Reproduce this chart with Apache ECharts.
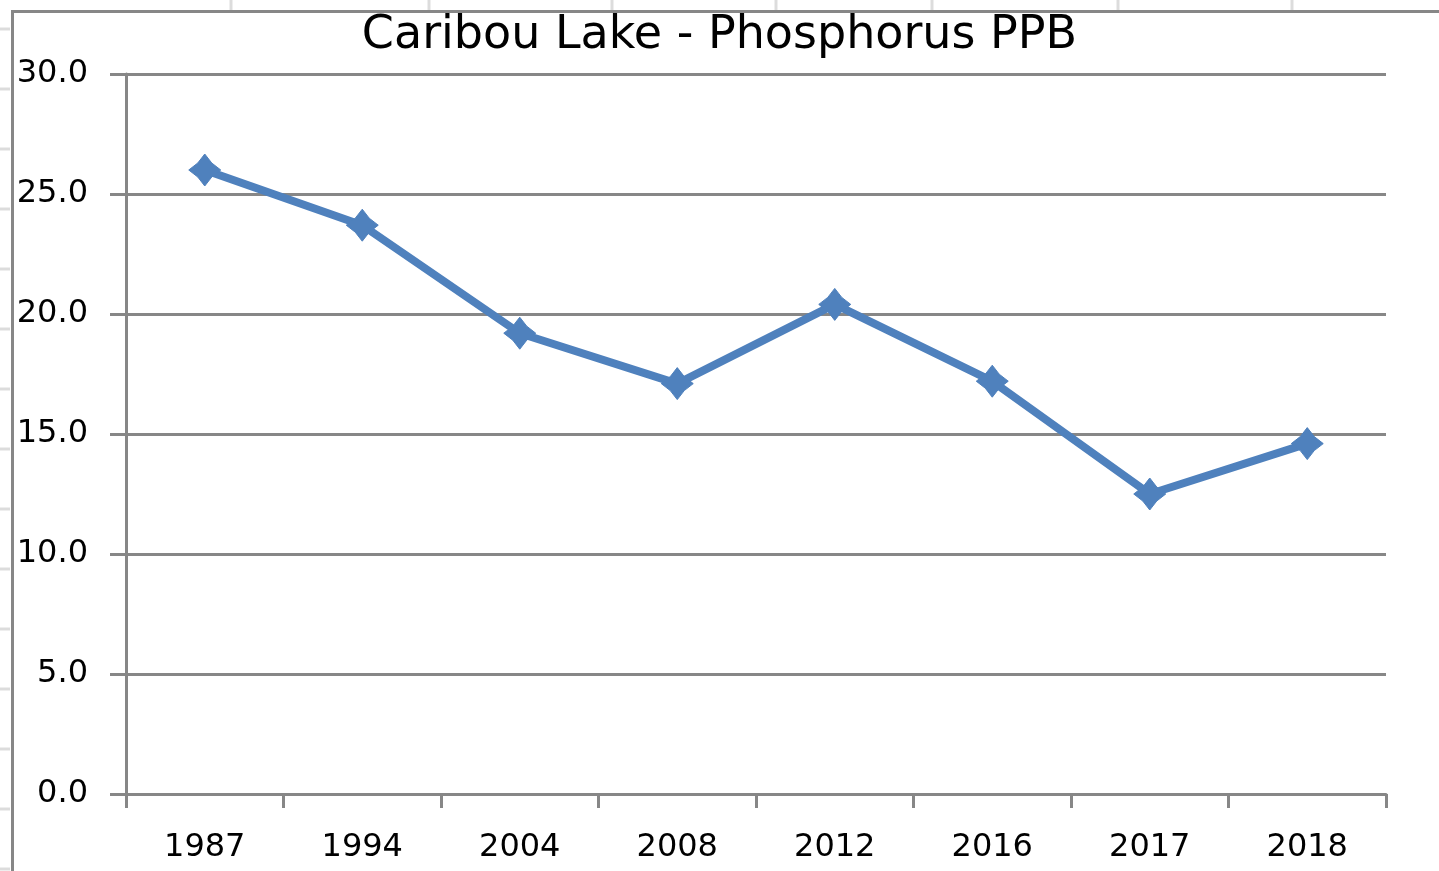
<!DOCTYPE html>
<html>
<head>
<meta charset="utf-8">
<script src="https://cdn.jsdelivr.net/npm/echarts@6/dist/echarts.min.js"></script>
<style>
  html, body { margin: 0; padding: 0; background: #fff; }
  #chart { width: 1439px; height: 871px; }
</style>
</head>
<body>
<div id="chart"></div>
<script>
// data
var years = ['1987', '1994', '2004', '2008', '2012', '2016', '2017', '2018']
var phosphorus = [26.0, 23.7, 19.2, 17.1, 20.4, 17.2, 12.5, 14.6]
var yTicks = { min: 0, max: 30, step: 5 }

// spreadsheet cells peeking out behind the chart
var sheetCols = [231, 429, 612, 776, 932, 1118, 1292]
var sheetRows = []
for (var r = 29; r < 871; r += 60) sheetRows.push(r)

var axisGray = '#878787'
var lineBlue = '#4f81bd'
var fontName = 'DejaVu Sans'

var deco = []
sheetCols.forEach(function(x) {
  deco.push({ type: 'line', silent: true, shape: { x1: x, y1: 0, x2: x, y2: 10 }, style: { stroke: '#dcdcdc', lineWidth: 3 } })
})
sheetRows.forEach(function(y) {
  deco.push({ type: 'line', silent: true, shape: { x1: 0, y1: y, x2: 10, y2: y }, style: { stroke: '#dcdcdc', lineWidth: 3 } })
})
// chart frame (top and left edges visible)
deco.push({ type: 'line', silent: true, shape: { x1: 11, y1: 11.5, x2: 1439, y2: 11.5 }, style: { stroke: axisGray, lineWidth: 3 } })
deco.push({ type: 'line', silent: true, shape: { x1: 12.5, y1: 10, x2: 12.5, y2: 871 }, style: { stroke: axisGray, lineWidth: 3 } })

var option = {
  backgroundColor: '#fff',
  animation: false,
  graphic: deco,
  title: {
    text: 'Caribou Lake - Phosphorus PPB',
    left: 'center',
    top: 8,
    textStyle: { fontFamily: fontName, fontSize: 46, fontWeight: 'normal', color: '#000' }
  },
  grid: { left: 126, right: 53, top: 74, bottom: 77 },
  xAxis: {
    type: 'category',
    data: years,
    boundaryGap: true,
    axisLine: { lineStyle: { color: axisGray, width: 3 } },
    axisTick: { show: true, length: 14, alignWithLabel: false, lineStyle: { color: axisGray, width: 3 } },
    axisLabel: { color: '#000', fontFamily: fontName, fontSize: 32, margin: 38 }
  },
  yAxis: {
    type: 'value',
    min: yTicks.min,
    max: yTicks.max,
    interval: yTicks.step,
    axisLine: { show: true, lineStyle: { color: axisGray, width: 3 } },
    axisTick: { show: true, length: 16, lineStyle: { color: axisGray, width: 3 } },
    splitLine: { show: true, lineStyle: { color: axisGray, width: 3 } },
    axisLabel: {
      color: '#000',
      fontFamily: fontName,
      fontSize: 32,
      margin: 38,
      formatter: function(v) { return v.toFixed(1) }
    }
  },
  series: [
    {
      name: 'Phosphorus PPB',
      type: 'line',
      data: phosphorus,
      // Excel style diamond, slightly pinched sides
      symbol: 'path://M0,-16 L7,-7 L16,0 L7,7 L0,16 L-7,7 L-16,0 L-7,-7 Z',
      symbolSize: 32,
      showAllSymbol: true,
      itemStyle: { color: lineBlue, borderColor: lineBlue, borderWidth: 1 },
      lineStyle: { color: lineBlue, width: 8 }
    }
  ]
}

var myChart = echarts.init(document.getElementById('chart'))
myChart.setOption(option)
</script>
</body>
</html>
